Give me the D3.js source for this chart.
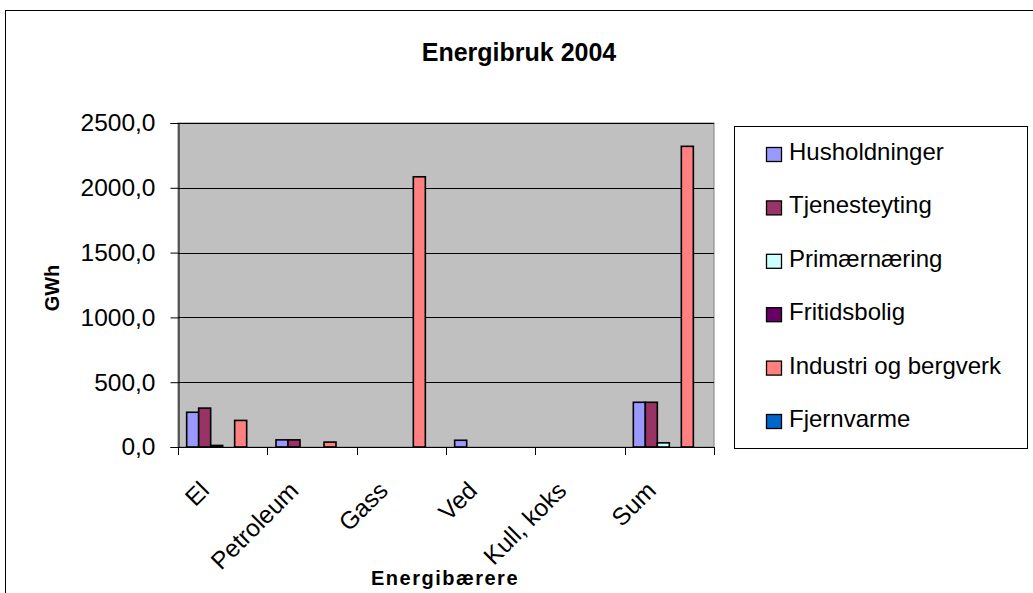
<!DOCTYPE html>
<html>
<head>
<meta charset="utf-8" />
<title>Energibruk 2004</title>
<script src="https://d3js.org/d3.v7.min.js"></script>
<style>
  body { margin: 0; background: #fff; }
  text { font-family: "Liberation Sans", Arial, sans-serif; }
</style>
</head>
<body>
<svg width="1033" height="593"></svg>
<script>
  const categories = ["El", "Petroleum", "Gass", "Ved", "Kull, koks", "Sum"];
  const seriesNames = ["Husholdninger", "Tjenesteyting", "Primærnæring", "Fritidsbolig", "Industri og bergverk", "Fjernvarme"];
  const seriesColors = ["#9999ff", "#993366", "#ccffff", "#660066", "#ff8080", "#0066cc"];
  // values per series, one per category (GWh)
  const husholdninger = [268, 55, 0, 52, 0, 345];
  const tjenesteyting = [300, 55, 0, 0, 0, 345];
  const primaernaering = [12, 0, 0, 0, 0, 32];
  const fritidsbolig = [0, 0, 0, 0, 0, 0];
  const industri = [205, 38, 2085, 0, 0, 2320];
  const fjernvarme = [0, 0, 0, 0, 0, 0];
  const yTicks = [0, 500, 1000, 1500, 2000, 2500];

  const allSeries = [husholdninger, tjenesteyting, primaernaering, fritidsbolig, industri, fjernvarme];

  const svg = d3.select("svg");
  const plot = { left: 178, right: 714, top: 123, bottom: 447 };

  // outer chart frame
  svg.append("rect")
    .attr("x", 5.5).attr("y", 10.5)
    .attr("width", 1040).attr("height", 600)
    .attr("fill", "none").attr("stroke", "#000");

  const x0 = d3.scaleBand().domain(categories).range([plot.left, plot.right]);
  const gap = x0.bandwidth() * 0.097;
  const x1 = d3.scaleBand().domain(seriesNames).range([gap, x0.bandwidth() - gap]);
  const y = d3.scaleLinear().domain([0, 2500]).range([plot.bottom, plot.top]);

  svg.append("rect")
    .attr("x", plot.left).attr("y", plot.top)
    .attr("width", plot.right - plot.left).attr("height", plot.bottom - plot.top)
    .attr("fill", "#c0c0c0").attr("stroke", "#808080");

  // gridlines
  svg.append("g").selectAll("line")
    .data(yTicks.filter(d => d > 0))
    .enter().append("line")
    .attr("x1", plot.left).attr("x2", plot.right)
    .attr("y1", d => Math.round(y(d)) + 0.5).attr("y2", d => Math.round(y(d)) + 0.5)
    .attr("stroke", "#000");

  // bars
  const barData = [];
  allSeries.forEach((vals, s) => {
    vals.forEach((v, c) => {
      if (v > 0) barData.push({ cat: categories[c], series: seriesNames[s], value: v, color: seriesColors[s] });
    });
  });
  svg.append("g").selectAll("rect")
    .data(barData)
    .enter().append("rect")
    .attr("x", d => x0(d.cat) + x1(d.series))
    .attr("y", d => y(d.value))
    .attr("width", x1.bandwidth())
    .attr("height", d => y(0) - y(d.value))
    .attr("fill", d => d.color)
    .attr("stroke", "#000")
    .attr("stroke-width", 1.6);

  // y axis
  const yAxis = d3.axisLeft(y).tickValues(yTicks).tickSize(8).tickPadding(15)
    .tickFormat(d => d3.format(".1f")(d).replace(".", ","));
  svg.append("g")
    .attr("transform", "translate(" + (plot.left + 0.5) + ",0)")
    .call(yAxis)
    .call(g => g.selectAll("text").attr("font-size", 24.5).attr("fill", "#000").style("font-family", "Liberation Sans, Arial, sans-serif"))
    .call(g => g.selectAll("line").attr("stroke", "#000"))
    .call(g => g.select(".domain").attr("stroke", "#000"));

  // x axis: ticks at category boundaries
  const xg = svg.append("g");
  xg.append("line")
    .attr("x1", plot.left).attr("x2", plot.right)
    .attr("y1", plot.bottom + 0.5).attr("y2", plot.bottom + 0.5)
    .attr("stroke", "#000");
  const bounds = categories.map(c => x0(c)).concat([plot.right]);
  xg.selectAll(".tk").data(bounds).enter().append("line")
    .attr("x1", d => Math.round(d) + 0.5).attr("x2", d => Math.round(d) + 0.5)
    .attr("y1", plot.bottom).attr("y2", plot.bottom + 8)
    .attr("stroke", "#000");
  xg.selectAll(".lbl").data(categories).enter().append("text")
    .attr("text-anchor", "end")
    .attr("font-size", 24.5)
    .attr("transform", d => "translate(" + (x0(d) + x0.bandwidth() / 2 - 12) + "," + (plot.bottom + 45) + ") rotate(-45)")
    .text(d => d);

  // titles
  svg.append("text")
    .attr("x", 519).attr("y", 61)
    .attr("text-anchor", "middle")
    .attr("font-size", 25).attr("font-weight", "bold")
    .text("Energibruk 2004");
  svg.append("text")
    .attr("transform", "translate(59,288) rotate(-90)")
    .attr("text-anchor", "middle")
    .attr("font-size", 20).attr("font-weight", "bold")
    .text("GWh");
  svg.append("text")
    .attr("x", 445).attr("y", 585)
    .attr("text-anchor", "middle")
    .attr("font-size", 20).attr("font-weight", "bold")
    .attr("letter-spacing", 1.5)
    .text("Energibærere");

  // legend
  const legend = svg.append("g");
  legend.append("rect")
    .attr("x", 734.5).attr("y", 126.5)
    .attr("width", 293).attr("height", 322)
    .attr("fill", "#fff").attr("stroke", "#000");
  const ly = d3.scalePoint().domain(seriesNames).range([154, 421]);
  const item = legend.selectAll(".li").data(seriesNames).enter().append("g")
    .attr("transform", d => "translate(766," + ly(d) + ")");
  item.append("rect")
    .attr("x", 0.5).attr("y", -6.5)
    .attr("width", 15).attr("height", 14)
    .attr("fill", (d, i) => seriesColors[i])
    .attr("stroke", "#000").attr("stroke-width", 1.3);
  item.append("text")
    .attr("x", 23).attr("y", 6)
    .attr("font-size", 24)
    .text(d => d);
</script>
</body>
</html>
